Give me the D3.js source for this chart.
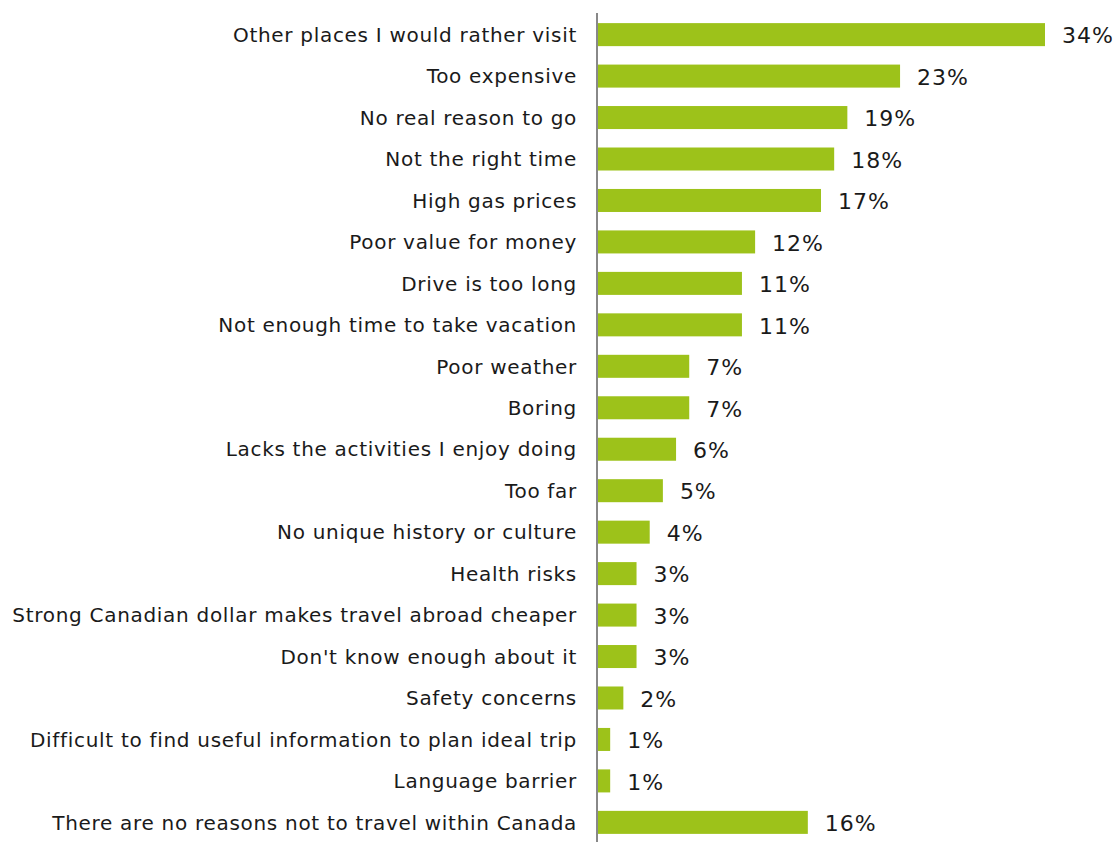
<!DOCTYPE html>
<html><head><meta charset="utf-8">
<script src="https://cdn.jsdelivr.net/npm/d3@7/dist/d3.min.js"></script>
<style>body{margin:0;background:#fff}svg{display:block}</style>
</head><body>
<script>
const categories = [
  "Other places I would rather visit","Too expensive","No real reason to go","Not the right time",
  "High gas prices","Poor value for money","Drive is too long","Not enough time to take vacation",
  "Poor weather","Boring","Lacks the activities I enjoy doing","Too far","No unique history or culture",
  "Health risks","Strong Canadian dollar makes travel abroad cheaper","Don't know enough about it",
  "Safety concerns","Difficult to find useful information to plan ideal trip","Language barrier",
  "There are no reasons not to travel within Canada"
];
const values = [34,23,19,18,17,12,11,11,7,7,6,5,4,3,3,3,2,1,1,16];
const valueLabels = values.map(v => v + "%");

const W = 1119, H = 842;
const svg = d3.select("body").append("svg").attr("width", W).attr("height", H);
const x0 = 597;
const x = d3.scaleLinear().domain([0, 34]).range([x0, 1045]);
const y = d3.scaleBand().domain(categories).range([14, 843]).paddingInner(0.445).paddingOuter(0.22);
const font = "Verdana, 'DejaVu Sans', sans-serif";

svg.selectAll("rect.bar").data(categories).join("rect")
  .attr("class","bar")
  .attr("x", x0)
  .attr("y", d => y(d))
  .attr("width", (d,i) => x(values[i]) - x0)
  .attr("height", y.bandwidth())
  .attr("fill", "#9DC21A");

svg.selectAll("text.cat").data(categories).join("text")
  .attr("class","cat")
  .attr("x", 577)
  .attr("y", d => y(d) + y.bandwidth()/2)
  .attr("dy", "0.36em")
  .attr("text-anchor","end")
  .attr("font-family", font)
  .attr("font-size", 20)
  .attr("letter-spacing", "0.7px")
  .attr("fill", "#1a1a1a")
  .text(d => d);

svg.selectAll("text.val").data(categories).join("text")
  .attr("class","val")
  .attr("x", (d,i) => x(values[i]) + 17)
  .attr("y", d => y(d) + y.bandwidth()/2)
  .attr("dy", "0.4em")
  .attr("font-family", font)
  .attr("font-size", 22)
  .attr("letter-spacing", "1px")
  .attr("fill", "#1a1a1a")
  .text((d,i) => valueLabels[i]);

svg.append("line").attr("x1", x0).attr("x2", x0).attr("y1", 13).attr("y2", 842)
  .attr("stroke", "#888").attr("stroke-width", 2);
</script>
</body></html>
